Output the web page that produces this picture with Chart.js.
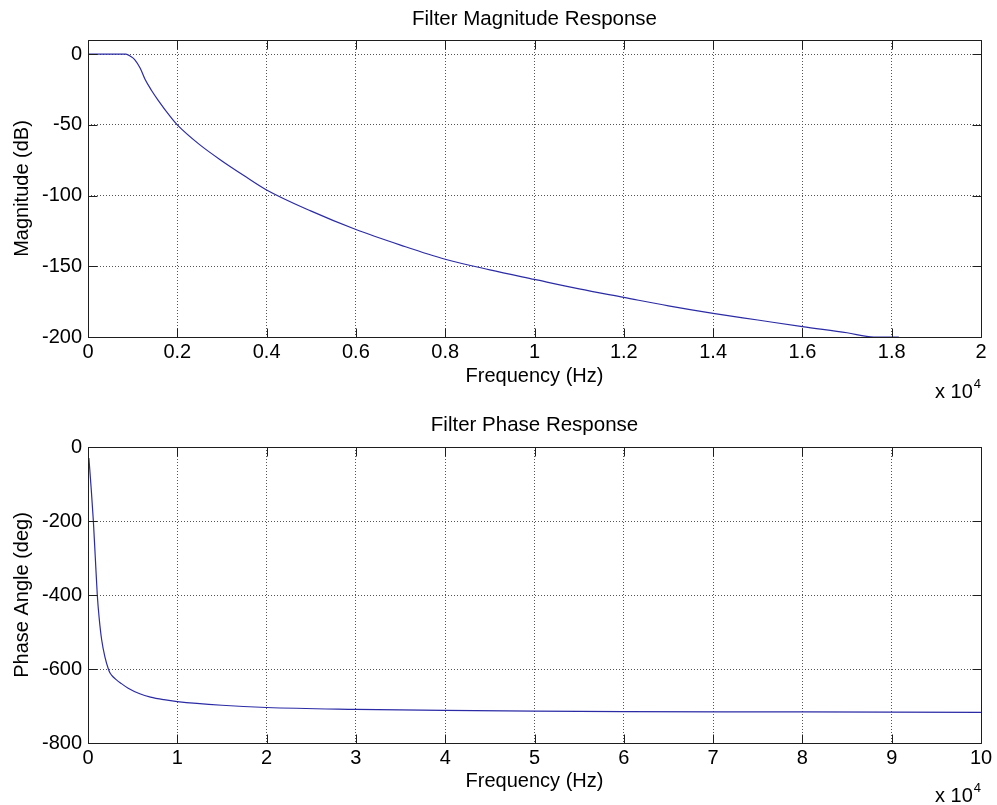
<!DOCTYPE html>
<html><head><meta charset="utf-8">
<script src="https://cdn.jsdelivr.net/npm/chart.js@4.4.0/dist/chart.umd.min.js"></script>
<style>
html,body{margin:0;padding:0;background:#fff;}
#wrap{position:relative;width:997px;height:805px;background:#fff;}
canvas{position:absolute;left:0;}
</style></head><body>
<div id="wrap">
<canvas id="mag" width="997" height="402" style="top:0"></canvas>
<canvas id="phase" width="997" height="403" style="top:402px"></canvas>
</div>
<script>
// ---- data ----
const magFreqHz = [0, 850, 950, 1050, 1170, 1280, 1420, 1580, 1840, 2000, 2500, 3000, 3500, 4000, 5000, 6000, 7000, 8000, 9000, 10000, 11000, 12000, 13000, 14000, 15000, 16000, 17000, 17600, 18160];
const magDb     = [0, 0, -1.5, -4, -10, -18, -25.5, -33, -44, -50, -64, -75.5, -86, -96, -111, -124, -135, -145, -152.5, -159.3, -166, -172, -178, -183.3, -188, -192.7, -197, -200, -200];

const phaseFreqHz = [100, 350, 600, 820, 1040, 1250, 1530, 1900, 2280, 2470, 2800, 3220, 3600, 4500, 5800, 7000, 8500, 10000, 15000, 20000, 30000, 40000, 50000, 60000, 80000, 100000];
const phaseDeg    = [-30, -110, -200, -300, -400, -462, -521, -568, -600, -611, -621, -630, -637, -652, -667, -676, -683, -688, -698, -704, -709, -712, -714, -715, -716, -717];

const magXTicks = [0, 2000, 4000, 6000, 8000, 10000, 12000, 14000, 16000, 18000, 20000];
const magXTickLabels = ['0', '0.2', '0.4', '0.6', '0.8', '1', '1.2', '1.4', '1.6', '1.8', '2'];
const magYTicks = [0, -50, -100, -150, -200];

const phaseXTicks = [0, 10000, 20000, 30000, 40000, 50000, 60000, 70000, 80000, 90000, 100000];
const phaseXTickLabels = ['0', '1', '2', '3', '4', '5', '6', '7', '8', '9', '10'];
const phaseYTicks = [0, -200, -400, -600, -800];

// ---- styling ----
const FAMILY = "'Liberation Sans', Arial, sans-serif";
const FONT = {family: FAMILY, size: 20, weight: 'normal'};
const LINE_COLOR = '#2b2ba6';
Chart.defaults.font.family = FAMILY;
Chart.defaults.color = '#000';

const boxPlugin = {
  id: 'matlabBox',
  afterDraw(chart, args, opts) {
    const ctx = chart.ctx;
    const a = chart.chartArea;
    const L = Math.round(a.left) + 0.5, R = Math.round(a.right) + 0.5;
    const T = Math.round(a.top) + 0.5, B = Math.round(a.bottom) + 0.5;
    ctx.save();
    ctx.strokeStyle = '#1e1e1e';
    ctx.lineWidth = 1;
    ctx.beginPath();
    ctx.rect(L, T, R - L, B - T);
    const tl = 9;
    chart.scales.x.ticks.forEach(t => {
      const px = Math.round(chart.scales.x.getPixelForValue(t.value)) + 0.5;
      ctx.moveTo(px, B); ctx.lineTo(px, B - tl);
      ctx.moveTo(px, T); ctx.lineTo(px, T + tl);
    });
    chart.scales.y.ticks.forEach(t => {
      const py = Math.round(chart.scales.y.getPixelForValue(t.value)) + 0.5;
      ctx.moveTo(L, py); ctx.lineTo(L + tl, py);
      ctx.moveTo(R, py); ctx.lineTo(R - tl, py);
    });
    ctx.stroke();
    ctx.fillStyle = '#000';
    ctx.textBaseline = 'middle';
    // title, centred over the axes box
    ctx.textAlign = 'center';
    ctx.font = "20.5px " + FAMILY;
    ctx.fillText(opts.title, (a.left + a.right) / 2, opts.ty);
    // exponent label
    ctx.textAlign = 'left';
    ctx.font = "20px " + FAMILY;
    const base = 'x 10';
    ctx.fillText(base, opts.ex, opts.ey);
    const w = ctx.measureText(base).width;
    ctx.font = "13px " + FAMILY;
    ctx.fillText('4', opts.ex + w + 1, opts.ey - 8);
    ctx.restore();
  }
};

function makeChart(id, xs, ys, cfg) {
  const pts = xs.map((x, i) => ({x: x, y: ys[i]}));
  return new Chart(document.getElementById(id), {
    type: 'line',
    data: {datasets: [{data: pts, borderColor: LINE_COLOR, borderWidth: 1.2, pointRadius: 0, cubicInterpolationMode: 'monotone', fill: false}]},
    plugins: [boxPlugin],
    options: {
      responsive: false,
      animation: false,
      devicePixelRatio: 1,
      layout: {padding: {left: 0, right: 16, top: cfg.topPad, bottom: 0}},
      plugins: {
        legend: {display: false},
        tooltip: {enabled: false},
        title: {display: false},
        matlabBox: {ex: 935, ey: cfg.ey, title: cfg.title, ty: cfg.ty}
      },
      scales: {
        x: {
          type: 'linear', min: cfg.xMin, max: cfg.xMax,
          afterBuildTicks: s => { s.ticks = cfg.xTicks.map(v => ({value: v})); },
          afterFit: s => { s.height = cfg.xScaleHeight; },
          ticks: {color: '#000', font: FONT, padding: 3, maxRotation: 0, autoSkip: false,
                  callback: (v, i) => cfg.xLabels[i]},
          grid: {drawTicks: false, color: '#555', lineWidth: 1},
          border: {display: false, dash: [1, 2]},
          title: {display: true, text: 'Frequency (Hz)', color: '#000', font: FONT, padding: {top: 0, bottom: cfg.xTitleBottom}}
        },
        y: {
          type: 'linear', min: cfg.yMin, max: cfg.yMax,
          afterBuildTicks: s => { s.ticks = cfg.yTicks.map(v => ({value: v})); },
          afterFit: s => { s.width = 88; },
          ticks: {color: '#000', font: FONT, padding: 6, autoSkip: false},
          grid: {drawTicks: false, color: '#555', lineWidth: 1},
          border: {display: false, dash: [1, 2]},
          title: {display: true, text: cfg.yTitle, color: '#000', font: FONT, padding: {top: 10, bottom: 0}}
        }
      }
    }
  });
}

makeChart('mag', magFreqHz, magDb, {
  title: 'Filter Magnitude Response', topPad: 40, ty: 19,
  xMin: 0, xMax: 20000, xTicks: magXTicks, xLabels: magXTickLabels, xScaleHeight: 65, xTitleBottom: 14,
  yMin: -200, yMax: 10, yTicks: magYTicks, yTitle: 'Magnitude (dB)', ey: 392
});
makeChart('phase', phaseFreqHz, phaseDeg, {
  title: 'Filter Phase Response', topPad: 45, ty: 23,
  xMin: 0, xMax: 100000, xTicks: phaseXTicks, xLabels: phaseXTickLabels, xScaleHeight: 62, xTitleBottom: 12,
  yMin: -800, yMax: 0, yTicks: phaseYTicks, yTitle: 'Phase Angle (deg)', ey: 394
});
</script>
</body></html>
